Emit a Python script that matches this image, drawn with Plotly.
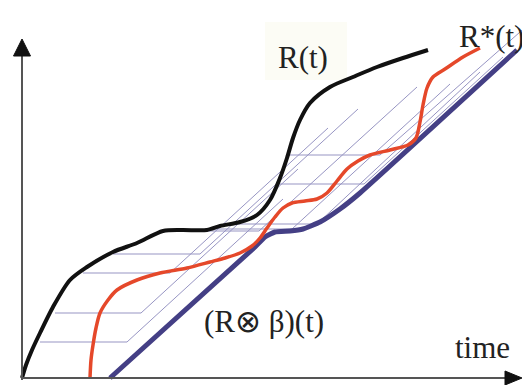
import plotly.graph_objects as go

# ---- data (x = time, y = cumulative amount) ----
r_x = [0, 4, 10, 18, 31, 48, 65, 91, 115, 141, 160, 185, 198, 218, 235, 248, 258, 265, 271, 278, 288, 308, 331, 355, 381, 406]
r_y = [0, 13, 28, 45, 71, 98, 111, 126, 135, 147, 148, 148, 152, 156, 163, 178, 200, 220, 240, 258, 275, 291, 301, 311, 320, 328]

rs_x = [68, 69, 71, 74, 78, 86, 95, 115, 138, 165, 188, 203, 218, 230, 238, 245, 253, 261, 270, 283, 295, 305, 315, 325, 336, 348, 368, 386, 394, 398, 401, 405, 411, 423, 441, 458]
rs_y = [0, 18, 33, 50, 65, 78, 88, 98, 105, 110, 116, 120, 125, 132, 140, 150, 161, 170, 175, 177, 179, 185, 197, 209, 217, 223, 228, 233, 240, 256, 273, 290, 301, 309, 321, 330]

conv_x = [88, 233, 243, 253, 268, 281, 298, 318, 338, 495]
conv_y = [0, 131, 141, 146, 147, 149, 156, 169, 185, 328]

# construction lines: start on R, horizontal to knee, then diagonal to end
cl_start_x = [18, 33, 61, 91, 150, 183, 208, 255, 266]
cl_level = [36, 65, 105, 124, 147, 149, 154, 194, 223]
cl_knee_x = [105, 119, 148, 178, 237, 270, 295, 342, 358]
cl_end_x = [261, 276, 306, 336, 395, 428, 458, 481, 506]
cl_end_y = [179, 209, 250, 269, 291, 294, 306, 321, 353]

labels = ["R(t)", "R*(t)", "(R⊗ β)(t)", "time"]
label_x = [281, 469, 242, 460]
label_y = [321, 342, 57, 31]

fig = go.Figure()

for sx, lv, kx, ex, ey in zip(cl_start_x, cl_level, cl_knee_x, cl_end_x, cl_end_y):
    fig.add_trace(go.Scatter(x=[sx, kx, ex], y=[lv, lv, ey], mode="lines",
                             line=dict(color="#9795c3", width=1), hoverinfo="skip"))

fig.add_trace(go.Scatter(x=conv_x, y=conv_y, mode="lines",
                         line=dict(color="#443f85", width=5, shape="spline", smoothing=0.4), hoverinfo="skip"))
fig.add_trace(go.Scatter(x=rs_x, y=rs_y, mode="lines",
                         line=dict(color="#e5482a", width=3.5, shape="spline", smoothing=0.8), hoverinfo="skip"))
fig.add_trace(go.Scatter(x=r_x, y=r_y, mode="lines",
                         line=dict(color="#111111", width=4, shape="spline", smoothing=0.8), hoverinfo="skip"))

shapes = [
    dict(type="rect", xref="x", yref="y", x0=243, x1=325, y0=298, y1=356,
         fillcolor="#fcfcf5", line=dict(width=0), layer="below"),
    dict(type="line", xref="x", yref="y", x0=0, y0=-2, x1=0, y1=323,
         line=dict(color="#555555", width=2)),
    dict(type="path", xref="x", yref="y", path="M -8.5,322 L 0,339 L 8.5,322 Z",
         fillcolor="#111111", line=dict(color="#111111", width=1)),
    dict(type="line", xref="x", yref="y", x0=0, y0=0, x1=484, y1=0,
         line=dict(color="#555555", width=2)),
    dict(type="path", xref="x", yref="y", path="M 483,7 L 500,0 L 483,-7 Z",
         fillcolor="#111111", line=dict(color="#111111", width=1)),
]

annotations = [
    dict(x=lx, y=ly, xref="x", yref="y", text=t, showarrow=False,
         font=dict(family="Liberation Serif, serif", size=31, color="#222222"))
    for t, lx, ly in zip(labels, label_x, label_y)
]

# page has an 8px body margin, so the figure is 522x377 placed at (8,8)
fig.update_layout(
    width=522, height=377, autosize=False,
    margin=dict(l=0, r=0, t=0, b=0),
    paper_bgcolor="white", plot_bgcolor="white",
    showlegend=False,
    xaxis=dict(range=[-14, 508], visible=False, fixedrange=True),
    yaxis=dict(range=[-7, 370], visible=False, fixedrange=True),
    shapes=shapes, annotations=annotations,
)

fig.write_html("out.html")
